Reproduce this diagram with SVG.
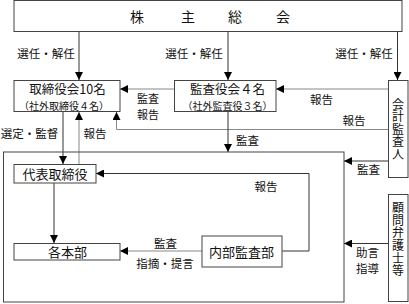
<svg xmlns="http://www.w3.org/2000/svg" width="409" height="304" viewBox="0 0 409 304">
<defs>
<style>
text{font-family:"Noto Sans CJK JP","Noto Sans",sans-serif;fill:#111;text-anchor:middle;dominant-baseline:central}
.box{fill:#fff;stroke:#444;stroke-width:1}
.ln{fill:none;stroke:#333;stroke-width:1}
.gr{fill:none;stroke:#888;stroke-width:1}
.lb{font-size:11.5px}
.nm{font-size:13px}
.tt{font-size:12.5px}
.sm{font-size:10px}
.vt{font-size:12px;writing-mode:vertical-rl;letter-spacing:0.6px}
</style>
<marker id="ah" viewBox="0 0 10 10" refX="10" refY="5" markerWidth="8" markerHeight="8" markerUnits="userSpaceOnUse" orient="auto"><path d="M0,0 L10,5 L0,10 z" fill="#000"/></marker>
</defs>
<rect x="0" y="0" width="409" height="304" fill="#fff"/>
<g id="connectors">
<path class="ln" d="M79,31 V80" marker-end="url(#ah)"/>
<path class="ln" d="M228,31 V80" marker-end="url(#ah)"/>
<path class="ln" d="M397.5,31 V80" marker-end="url(#ah)"/>
<path class="gr" d="M174,89 H120" marker-end="url(#ah)"/>
<path class="gr" d="M388,89 H276" marker-end="url(#ah)"/>
<path class="gr" d="M388,129.5 H116.5 V112" marker-end="url(#ah)"/>
<path class="ln" d="M228,112 V152" marker-end="url(#ah)"/>
<path class="ln" d="M388,161 H344" marker-end="url(#ah)"/>
<path class="ln" d="M63,112 V164" marker-end="url(#ah)"/>
<path class="gr" d="M79,164 V112" marker-end="url(#ah)"/>
<path class="ln" d="M282,251 H309 V173.5 H96" marker-end="url(#ah)"/>
<path class="ln" d="M54,183 V243" marker-end="url(#ah)"/>
<path class="gr" d="M202,251 H120" marker-end="url(#ah)"/>
<path class="ln" d="M388,243.5 H344" marker-end="url(#ah)"/>
<text class="lb" x="46" y="53">選任・解任</text>
<text class="lb" x="194" y="53">選任・解任</text>
<text class="lb" x="364" y="53">選任・解任</text>
<text class="lb" x="148" y="97.5" style="font-size:11px">監査</text>
<text class="lb" x="148" y="114" style="font-size:11px">報告</text>
<text class="lb" x="321.5" y="99">報告</text>
<text class="lb" x="354" y="120">報告</text>
<text class="lb" x="247.5" y="140">監査</text>
<text class="lb" x="368.5" y="169">監査</text>
<text class="lb" x="29.5" y="133">選定・監督</text>
<text class="lb" x="95" y="133">報告</text>
<text class="lb" x="266" y="186">報告</text>
<text class="lb" x="165.5" y="242.5">監査</text>
<text class="lb" x="165" y="263">指摘・提言</text>
<text class="lb" x="367.5" y="252">助言</text>
<text class="lb" x="367.5" y="268">指導</text>
</g>
<g id="shareholders">
<rect class="box" x="14" y="0.5" width="388" height="31"/>
<text x="137" y="16" style="font-size:14px">株</text>
<text x="188" y="16" style="font-size:14px">主</text>
<text x="235" y="16" style="font-size:14px">総</text>
<text x="283" y="16" style="font-size:14px">会</text>
</g>
<g id="board">
<rect class="box" x="14" y="80.5" width="106" height="31"/>
<text class="tt" x="67.5" y="88.5">取締役会10名</text>
<text class="sm" x="64" y="105.5">（社外取締役４名）</text>
</g>
<g id="audit-board">
<rect class="box" x="174.5" y="80.5" width="101.5" height="31"/>
<text class="tt" x="227.5" y="88.5">監査役会４名</text>
<text class="sm" x="227.5" y="105.5">（社外監査役３名）</text>
</g>
<g id="accounting-auditor">
<rect class="box" x="388.5" y="80.5" width="19.5" height="97"/>
<text class="vt" x="398" y="129.5">会計監査人</text>
</g>
<g id="company">
<rect fill="none" stroke="#444" x="3.5" y="152" width="340.5" height="150"/>
</g>
<g id="representative">
<rect class="box" x="14" y="164.5" width="82" height="18.5"/>
<text class="nm" x="55" y="173.5">代表取締役</text>
</g>
<g id="divisions">
<rect class="box" x="14" y="243.5" width="106" height="16.5"/>
<text class="nm" x="67.5" y="251.5">各本部</text>
</g>
<g id="internal-audit">
<rect class="box" x="202" y="236" width="80" height="31"/>
<text class="nm" x="241.5" y="251">内部監査部</text>
</g>
<g id="advisors">
<rect class="box" x="388.5" y="194.5" width="19.5" height="107"/>
<text class="vt" x="398" y="239.5">顧問弁護士等</text>
</g>
</svg>
